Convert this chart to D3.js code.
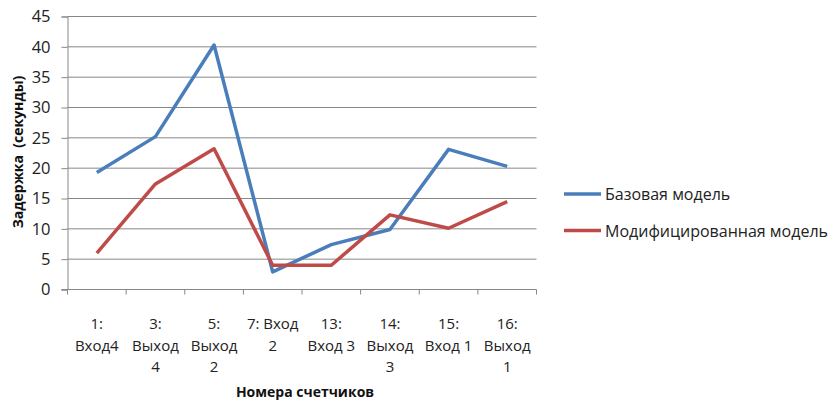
<!DOCTYPE html>
<html>
<head>
<meta charset="utf-8">
<script src="https://cdn.jsdelivr.net/npm/d3@7"></script>
<style>
  html, body { margin: 0; padding: 0; background: #fff; }
  svg { display: block; font-family: "Open Sans", "Noto Sans", sans-serif; }
</style>
</head>
<body>
<svg id="chart" width="831" height="403"></svg>
<script>
// Counter labels, one entry per wrapped line
const categories = [
  ["1:", "Вход4"],
  ["3:", "Выход", "4"],
  ["5:", "Выход", "2"],
  ["7: Вход", "2"],
  ["13:", "Вход 3"],
  ["14:", "Выход", "3"],
  ["15:", "Вход 1"],
  ["16:", "Выход", "1"]
];
const baseModel = [19.3, 25.2, 40.3, 2.9, 7.4, 9.9, 23.1, 20.3];
const modifiedModel = [6.0, 17.4, 23.2, 4.0, 4.0, 12.3, 10.1, 14.5];
const seriesNames = ["Базовая модель", "Модифицированная модель"];
const seriesColors = ["#4A7EBB", "#BE4B48"];
const yTicks = [0, 5, 10, 15, 20, 25, 30, 35, 40, 45];
const yTitle = "Задержка  (секунды)";
const xTitle = "Номера счетчиков";

const svg = d3.select("#chart");
const plot = { left: 67.5, right: 536.5, top: 16.5, bottom: 289.5 };

const x = d3.scaleBand()
  .domain(d3.range(categories.length))
  .range([plot.left, plot.right])
  .paddingInner(0).paddingOuter(0);
const y = d3.scaleLinear().domain([0, 45]).range([plot.bottom, plot.top]);

// horizontal gridlines
svg.append("g")
  .selectAll("line")
  .data(yTicks.filter(d => d > 0))
  .join("line")
  .attr("x1", plot.left).attr("x2", plot.right)
  .attr("y1", d => y(d)).attr("y2", d => y(d))
  .attr("stroke", "#878787").attr("stroke-width", 1);

// value axis
const yAxis = svg.append("g")
  .attr("transform", `translate(${plot.left},0)`)
  .call(d3.axisLeft(y).tickValues(yTicks).tickSize(6).tickPadding(11));
yAxis.select(".domain").attr("stroke", "#878787");
yAxis.selectAll(".tick line").attr("stroke", "#878787");
yAxis.selectAll(".tick text")
  .attr("font-size", 16.5).attr("fill", "#222")
  .attr("font-family", "'Open Sans', sans-serif");

// category axis with ticks on the category boundaries
const boundaries = d3.range(categories.length + 1).map(i => plot.left + i * x.bandwidth());
const xg = svg.append("g");
xg.append("line")
  .attr("x1", plot.left - 6).attr("x2", plot.right)
  .attr("y1", plot.bottom).attr("y2", plot.bottom)
  .attr("stroke", "#878787");
xg.selectAll("line.tk")
  .data(boundaries)
  .join("line").attr("class", "tk")
  .attr("x1", d => d).attr("x2", d => d)
  .attr("y1", plot.bottom).attr("y2", plot.bottom + 5)
  .attr("stroke", "#878787");

const labels = xg.selectAll("text.cat")
  .data(categories)
  .join("text").attr("class", "cat")
  .attr("text-anchor", "middle")
  .attr("font-size", 15).attr("fill", "#222");
labels.selectAll("tspan")
  .data((d, i) => d.map(t => ({ t, i })))
  .join("tspan")
  .attr("x", d => x(d.i) + x.bandwidth() / 2)
  .attr("y", (d, j) => 329 + j * 21.7)
  .text(d => d.t);

// series lines
const line = d3.line()
  .x((d, i) => x(i) + x.bandwidth() / 2)
  .y(d => y(d));
[baseModel, modifiedModel].forEach((s, k) => {
  svg.append("path")
    .datum(s)
    .attr("d", line)
    .attr("fill", "none")
    .attr("stroke", seriesColors[k])
    .attr("stroke-width", 3.5)
    .attr("stroke-linejoin", "round");
});

// axis titles
svg.append("text")
  .attr("transform", `translate(22.5,152) rotate(-90)`)
  .attr("text-anchor", "middle")
  .attr("font-size", 14).attr("font-weight", "bold").attr("fill", "#111")
  .style("white-space", "pre")
  .text(yTitle);
svg.append("text")
  .attr("x", 305).attr("y", 397)
  .attr("text-anchor", "middle")
  .attr("font-size", 14).attr("font-weight", "bold").attr("fill", "#111")
  .text(xTitle);

// legend
const legend = svg.append("g");
seriesNames.forEach((name, k) => {
  const ly = 194 + k * 36.5;
  legend.append("line")
    .attr("x1", 564).attr("x2", 601).attr("y1", ly).attr("y2", ly)
    .attr("stroke", seriesColors[k]).attr("stroke-width", 3.5);
  legend.append("text")
    .attr("x", 605).attr("y", ly + 6)
    .attr("font-size", 16).attr("fill", "#222")
    .text(name);
});
</script>
</body>
</html>
